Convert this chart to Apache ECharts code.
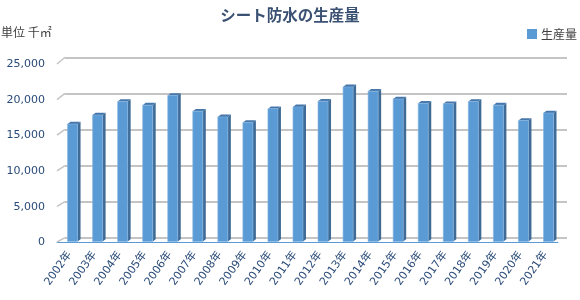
<!DOCTYPE html>
<html>
<head>
<meta charset="utf-8">
<script src="https://cdn.jsdelivr.net/npm/echarts@6/dist/echarts.min.js"></script>
<style>html,body{margin:0;padding:0;background:#fff;}#c{width:580px;height:300px;}</style>
</head>
<body>
<div id="c"></div>
<script>
const years = ['2002年','2003年','2004年','2005年','2006年','2007年','2008年','2009年','2010年','2011年','2012年','2013年','2014年','2015年','2016年','2017年','2018年','2019年','2020年','2021年'];
const production = [16450,17700,19600,19100,20450,18250,17450,16650,18600,18850,19650,21650,21050,19950,19350,19300,19600,19100,16950,18000];
const yTicks = [0,5000,10000,15000,20000,25000];
const yMin = 0, yMax = 25000, yStep = 5000;

const chart = echarts.init(document.getElementById('c'), null, {renderer:'canvas'});
const txt = '#2a4b78';
const font = "'DejaVu Sans','Noto Sans CJK JP',sans-serif";
const cjk = "'Noto Sans CJK JP',sans-serif";

const option = {
  animation:false,
  title:[
    {text:'シート防水の生産量', left:'center', top:7, padding:0,
     textStyle:{fontSize:15.5, fontWeight:'bold', color:'#3b5173', fontFamily:cjk}},
    {text:'単位 千㎡', left:1, top:26, padding:0,
     textStyle:{fontSize:12, fontWeight:'normal', color:'#404040', fontFamily:cjk}}
  ],
  legend:{data:['生産量'], right:3, top:28, padding:0, icon:'rect', itemWidth:10, itemHeight:10,
    textStyle:{fontSize:12, color:'#404040', fontFamily:cjk, padding:[0,0,0,-1]}},
  grid:[
    {left:65, right:13, top:57.3, bottom:62.3},
    {left:57, right:22, top:64, bottom:57.5},
    {left:57, right:22, top:64, bottom:60.5}
  ],
  xAxis:[
    {gridIndex:0, type:'category', data:years, show:false},
    {gridIndex:1, type:'category', data:years,
     axisLine:{lineStyle:{color:'#5b9bd5', width:1}},
     axisTick:{length:4, lineStyle:{color:'#5b9bd5'}},
     axisLabel:{rotate:55, interval:0, fontSize:11, color:txt, margin:10, fontFamily:font}},
    {gridIndex:2, type:'category', data:years,
     axisLine:{show:false}, axisTick:{length:3, lineStyle:{color:'#5b9bd5'}}, axisLabel:{show:false}}
  ],
  yAxis:[
    {gridIndex:0, type:'value', min:yMin, max:yMax, interval:yStep,
     axisLabel:{show:false}, axisLine:{show:false}, axisTick:{show:false},
     splitLine:{lineStyle:{color:'#c4c4c4', width:2}}},
    {gridIndex:1, type:'value', min:yMin, max:yMax, interval:yStep,
     axisLine:{show:false}, axisTick:{show:false}, splitLine:{show:false},
     axisLabel:{fontSize:11, color:txt, margin:12, fontFamily:font,
       formatter:v=>v.toLocaleString('en-US')}},
    {gridIndex:2, type:'value', min:yMin, max:yMax, show:false}
  ],
  series:[
    {type:'custom', name:'wall', xAxisIndex:0, yAxisIndex:0, silent:true,
     data:yTicks.map(v=>[0,v]),
     renderItem:function(params, api){
       const v = api.value(1);
       const p = api.coord([0, v]);
       const band = api.size([1,0])[0];
       const lx = p[0] - band/2;
       return {type:'line', shape:{x1:lx, y1:p[1], x2:lx-8, y2:p[1]+4.3+2.4*v/yMax},
               style:{stroke:'#c4c4c4', lineWidth:1.5}};
     }},
    {type:'custom', name:'生産量', xAxisIndex:1, yAxisIndex:1,
     itemStyle:{color:'#5b9bd5'},
     encode:{x:0, y:1},
     data:production.map((v,i)=>[i,v]),
     renderItem:function(params, api){
       const i = api.value(0), v = api.value(1);
       const c = api.coord([i, v]);
       const b = api.coord([i, 0]);
       const band = api.size([1,0])[0];
       const w = band*0.4, left = c[0]-band*0.08, dx = band*0.12, dy = 2.3;
       const top = c[1]-1, bot = b[1]-1;
       return {type:'group', children:[
         {type:'polygon', shape:{points:[[left+w,top],[left+w+dx,top-dy],[left+w+dx,bot-dy],[left+w,bot]]},
          style:{fill:'#3f6b97'}},
         {type:'polygon', shape:{points:[[left,top],[left+dx,top-dy],[left+w+dx,top-dy],[left+w,top]]},
          style:{fill:'#4677aa'}},
         {type:'rect', shape:{x:left, y:top, width:w, height:bot-top},
          style:{fill:'#5b9bd5', stroke:'#86b5e3', lineWidth:0.6}}
       ]};
     }}
  ]
};
chart.setOption(option);
</script>
</body>
</html>
